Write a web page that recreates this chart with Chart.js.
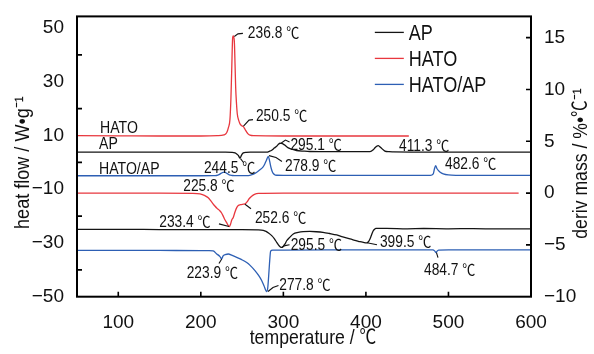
<!DOCTYPE html>
<html><head><meta charset="utf-8">
<script src="https://cdn.jsdelivr.net/npm/chart.js@4.4.1/dist/chart.umd.min.js"></script>
<style>html,body{margin:0;padding:0;background:#fff}canvas{display:block}</style>
</head><body>
<canvas id="c" width="594" height="354"></canvas>
<script>
// ---------- data ----------
const seriesNames = ['AP', 'HATO', 'HATO/AP'];

const xTickValues = [100, 200, 300, 400, 500, 600];
const yLeftLabelValues = [-50, -30, -10, 10, 30, 50];
const yLeftMarkValues = [-40, -20, 0, 20, 40];
const yRightTickValues = [-10, -5, 0, 5, 10, 15];

// DSC heat flow (W/g), left axis
const dscHatoT = [50,100,150,200,220,228,231.3,233.5,235.3,236.5,237.4,238.6,239.3,240.6,241.5,242.2,243.2,244.2,246,247.5,249.5,251.5,253.5,255.6,257.5,259.6,263.6,300,350,400,452];
const dscHatoV = [9.9,9.85,9.8,9.8,9.9,10.2,11,13,16,24,34,46.4,47,45,36,28,22,18,15.5,14.3,13.6,13.3,12.3,11.2,10.5,10.1,9.9,9.8,9.8,9.8,9.8];

const dscApT = [50,100,150,200,230,238,241.4,243.5,245.4,247.5,249.5,251.5,255,260,270,279.8,283,285.9,289,291.9,294,295.9,297.5,299.9,303,306,310,316,325,332,360,400,405,408.9,411,413,415,416.5,418.3,423,428,433,500,600];
const dscApV = [3.8,3.8,3.78,3.76,3.76,3.7,3.5,3.1,2.6,1.55,2.8,3.5,3.72,3.76,3.76,3.8,4.1,4.5,5.3,6.0,6.7,7.1,7.05,6.8,6.1,5.4,4.9,4.4,4.15,4.02,3.95,3.95,3.95,4.65,5.4,6.0,6.25,5.9,5.4,4.2,3.95,3.9,3.8,3.76];

const dscMixT = [50,100,150,200,215,219,222,225,228.4,231.6,234.4,238,245,257.5,262,266,269,272,275,277.5,279.5,281.7,283,284,285.5,287,289,292,300,350,400,450,478,481.6,483,484.5,486,487.7,490,493.7,499.8,510,550,600];
const dscMixV = [-5.0,-5.0,-5.0,-5.0,-4.98,-4.9,-4.6,-4.0,-3.65,-4.1,-4.7,-4.9,-4.98,-4.95,-4.6,-4.0,-3.4,-2.7,-1.9,-0.6,0.8,2.17,1.0,-0.5,-2.5,-3.8,-4.5,-4.8,-4.85,-4.85,-4.85,-4.85,-4.85,-4.3,-2.5,-1.2,-2.3,-3.0,-3.7,-4.3,-4.7,-4.82,-4.85,-4.85];

// DTG deriv mass (%/°C), right axis
const dtgHatoT = [50,100,150,190,199,205,209,213,217,220,223,225,227,229,231.3,233,234.5,236,237.5,239.3,241.5,243.5,245.4,248,250.5,253.5,256,258.5,261.6,265,270,300,400,500,585];
const dtgHatoV = [0,0,0,-0.02,-0.08,-0.25,-0.45,-0.85,-1.25,-1.5,-1.7,-1.9,-2.2,-2.55,-2.85,-3.1,-3.24,-3.0,-2.6,-2.35,-1.8,-1.4,-1.2,-1.12,-1.08,-1.04,-0.85,-0.55,-0.3,-0.12,-0.03,0,0,0,0];

const dtgApT = [50,100,150,200,250,270,275.7,279,282,285.9,289,291.9,294,296,298,300,302,304,308,312,318,324,332,340,348,356,364.6,372,380.7,388,392.8,397,400.9,403,404.9,407,408.9,410.5,412.2,425,450,470,500,530,560,600];
const dtgApV = [-3.5,-3.5,-3.52,-3.53,-3.53,-3.55,-3.6,-3.7,-3.85,-4.11,-4.4,-4.75,-5.0,-5.17,-5.24,-5.12,-4.91,-4.6,-4.25,-3.95,-3.8,-3.72,-3.70,-3.73,-3.79,-3.9,-4.04,-4.23,-4.43,-4.58,-4.69,-4.76,-4.81,-4.7,-4.43,-4.0,-3.63,-3.48,-3.41,-3.41,-3.45,-3.42,-3.45,-3.43,-3.46,-3.45];

const dtgMixT = [50,100,150,200,210,215,219,223.2,225.3,227,229.5,233.3,238,243.5,249,255.6,260,265.6,270,273.7,276.5,279.8,281,282.2,283.2,284.6,287,300,400,481,483.5,485,486,488,500,600];
const dtgMixV = [-5.52,-5.52,-5.53,-5.55,-5.55,-5.58,-5.85,-6.13,-6.35,-6.05,-5.95,-5.88,-6.02,-6.2,-6.4,-6.7,-7.0,-7.48,-7.95,-8.44,-8.95,-9.5,-9.2,-8.0,-6.8,-5.6,-5.5,-5.5,-5.48,-5.48,-5.6,-5.75,-5.62,-5.5,-5.48,-5.48];

// ---------- styling / layout ----------
const FONT = "'Liberation Sans',Arial,sans-serif";
const CJK = "'Noto Sans CJK SC','Liberation Sans',sans-serif";
const COL = { 'AP': '#141414', 'HATO': '#e8373e', 'HATO/AP': '#2d5fb4' };

// annotation texts: position in data units (°C, axis value)
const annotations = [
  { t: '236.8 \u2103', axis: 'y', at: [257, 48.3], lead: [[240.6,46.8],[245,47.8],[251,48.0]] },
  { t: '250.5 \u2103', axis: 'y', at: [266.8, 17.4], lead: [[251.7,13.5],[258.4,15.7],[263.2,15.9]] },
  { t: 'HATO', axis: 'y', at: [77.9, 13.0] },
  { t: 'AP', axis: 'y', at: [76.7, 7.0] },
  { t: 'HATO/AP', axis: 'y', at: [76.7, -2.3] },
  { t: '244.5 \u2103', axis: 'y', at: [203.8, -1.8], lead: [[248.1,1.4],[251.7,-0.05]] },
  { t: '295.1 \u2103', axis: 'y', at: [308.6, 6.6], lead: [[297.5,7.2],[302.5,8.3],[307.5,7.6]] },
  { t: '411.3 \u2103', axis: 'y', at: [440.1, 6.25] },
  { t: '278.9 \u2103', axis: 'y', at: [302, -1.2], lead: [[282.6,2.5],[291.1,1.8],[298.3,0.3]] },
  { t: '482.6 \u2103', axis: 'y', at: [495.8, -0.5] },
  { t: '225.8 \u2103', axis: 'y2', at: [178.8, 0.8] },
  { t: '233.4 \u2103', axis: 'y2', at: [149.7, -2.67], lead: [[222,-2.97],[234.1,-3.22]] },
  { t: '252.6 \u2103', axis: 'y2', at: [265.6, -2.35], lead: [[253.5,-1.08],[260.8,-1.51]] },
  { t: '295.5 \u2103', axis: 'y2', at: [308.9, -4.91], lead: [[298.3,-5.26],[302,-5.07],[307.5,-4.98]] },
  { t: '399.5 \u2103', axis: 'y2', at: [417, -4.69], lead: [[401.3,-4.79],[413.4,-4.98]] },
  { t: '223.9 \u2103', axis: 'y2', at: [182.9, -7.64], lead: [[225.3,-6.37],[222,-6.8]] },
  { t: '277.8 \u2103', axis: 'y2', at: [295.1, -8.76], lead: [[281.4,-9.5],[287.4,-9.11],[294.1,-8.92]] },
  { t: '484.7 \u2103', axis: 'y2', at: [470.4, -7.32], lead: [[485.5,-5.75],[487.3,-6.23]] }
];

function pts(T, V) { return T.map((t, i) => ({ x: t, y: V[i] })); }
function fmt(v) { return v < 0 ? '\u2212' + Math.abs(v) : String(v); }

function ds(name, T, V, axis) {
  return { label: name, data: pts(T, V), yAxisID: axis, borderColor: COL[name],
    borderWidth: 1.3, pointRadius: 0, fill: false, cubicInterpolationMode: 'monotone' };
}

// draw horizontally condensed text, vertically centred on y (cap-height middle);
// the ℃ sign is set in a CJK font (wide "°C" look), all parts share one baseline
function condText(ctx, text, x, y, sx, size, align, rot) {
  const parts = text.split(/(\u2103)/).filter(s => s.length);
  const fontOf = s => (s === '\u2103' ? (size * 0.95) + 'px ' + CJK : size + 'px ' + FONT);
  let total = 0;
  const widths = parts.map(s => { ctx.font = fontOf(s); const w = ctx.measureText(s).width; total += w; return w; });
  ctx.save();
  ctx.translate(x, y);
  if (rot) ctx.rotate(rot);
  ctx.scale(sx, 1);
  ctx.textAlign = 'left';
  ctx.textBaseline = 'alphabetic';
  const base = size * 0.36;
  let cx = align === 'center' ? -total / 2 : 0;
  parts.forEach((s, i) => { ctx.font = fontOf(s); ctx.fillText(s, cx, base); cx += widths[i]; });
  ctx.restore();
}

const deco = {
  id: 'deco',
  afterDatasetsDraw(chart) {
    const { ctx, chartArea: a, scales } = chart;
    ctx.save();
    ctx.strokeStyle = '#000';
    ctx.lineWidth = 2;
    ctx.strokeRect(a.left, a.top, a.right - a.left, a.bottom - a.top);
    ctx.lineWidth = 1.6;
    const L = 5;
    ctx.beginPath();
    xTickValues.forEach(v => { const p = scales.x.getPixelForValue(v); if (p < a.right - 1) { ctx.moveTo(p, a.bottom); ctx.lineTo(p, a.bottom - L); } });
    yLeftMarkValues.forEach(v => { const p = scales.y.getPixelForValue(v); ctx.moveTo(a.left, p); ctx.lineTo(a.left + L, p); });
    yRightTickValues.forEach(v => { const p = scales.y2.getPixelForValue(v); if (p < a.bottom - 1) { ctx.moveTo(a.right, p); ctx.lineTo(a.right - L, p); } });
    ctx.stroke();
    ctx.restore();
  },
  afterDraw(chart) {
    const { ctx, chartArea: a, scales } = chart;
    ctx.save();
    // annotations
    ctx.fillStyle = '#111';
    ctx.strokeStyle = '#111';
    ctx.lineWidth = 1.1;
    annotations.forEach(an => {
      const sy = scales[an.axis];
      const isName = seriesNames.includes(an.t);
      condText(ctx, an.t, scales.x.getPixelForValue(an.at[0]), sy.getPixelForValue(an.at[1]), isName ? 0.88 : 0.86, 16, 'left');
      if (an.lead) {
        ctx.beginPath();
        an.lead.forEach((p, i) => {
          const X = scales.x.getPixelForValue(p[0]), Y = sy.getPixelForValue(p[1]);
          if (i === 0) ctx.moveTo(X, Y); else ctx.lineTo(X, Y);
        });
        ctx.stroke();
      }
    });
    // legend
    const lx0 = a.left + (a.right - a.left) * 0.656, lx1 = lx0 + 29, ly0 = a.top + 16, gap = 26;
    seriesNames.forEach((n, i) => {
      const y = ly0 + i * gap;
      ctx.strokeStyle = COL[n]; ctx.lineWidth = 1.3;
      ctx.beginPath(); ctx.moveTo(lx0, y); ctx.lineTo(lx1, y); ctx.stroke();
      ctx.fillStyle = '#111';
      condText(ctx, n, lx1 + 5, y, 0.82, 22, 'left');
    });
    // axis titles
    ctx.fillStyle = '#111';
    condText(ctx, 'temperature / \u2103', (a.left + a.right) / 2 + 9, a.bottom + 40, 0.84, 21, 'center');
    condText(ctx, 'heat flow / W\u2022g\u207B\u00B9', 21, (a.top + a.bottom) / 2 + 6, 0.86, 21, 'center', -Math.PI / 2);
    condText(ctx, 'deriv mass / %\u2022\u2103\u207B\u00B9', 579, (a.top + a.bottom) / 2 + 7, 0.84, 21, 'center', -Math.PI / 2);
    ctx.restore();
  }
};

const tickFont = { family: FONT, size: 19 };

new Chart(document.getElementById('c'), {
  type: 'line',
  data: {
    datasets: [
      ds('HATO', dscHatoT, dscHatoV, 'y'),
      ds('AP', dscApT, dscApV, 'y'),
      ds('HATO/AP', dscMixT, dscMixV, 'y'),
      ds('HATO', dtgHatoT, dtgHatoV, 'y2'),
      ds('AP', dtgApT, dtgApV, 'y2'),
      ds('HATO/AP', dtgMixT, dtgMixV, 'y2')
    ]
  },
  options: {
    responsive: false,
    animation: false,
    layout: { padding: { top: 15, left: 0, right: 0, bottom: 0 } },
    plugins: { legend: { display: false }, tooltip: { enabled: false } },
    scales: {
      x: {
        type: 'linear', min: 50, max: 600,
        grid: { display: false }, border: { display: false },
        ticks: { font: tickFont, color: '#111', padding: 7, maxRotation: 0, callback: v => fmt(v) },
        afterBuildTicks: s => { s.ticks = xTickValues.map(v => ({ value: v })); },
        afterFit: s => { s.height = 57.3; }
      },
      y: {
        type: 'linear', position: 'left', min: -50, max: 54.3,
        grid: { display: false }, border: { display: false },
        ticks: { font: tickFont, color: '#111', padding: 5, callback: v => fmt(v) },
        afterBuildTicks: s => { s.ticks = yLeftLabelValues.map(v => ({ value: v })); },
        afterFit: s => { s.width = 77; }
      },
      y2: {
        type: 'linear', position: 'right', min: -10, max: 17.05,
        grid: { display: false }, border: { display: false },
        ticks: { font: tickFont, color: '#111', padding: 5, callback: v => fmt(v) },
        afterBuildTicks: s => { s.ticks = yRightTickValues.map(v => ({ value: v })); },
        afterFit: s => { s.width = 63; }
      }
    }
  },
  plugins: [deco]
});
</script>
</body></html>
